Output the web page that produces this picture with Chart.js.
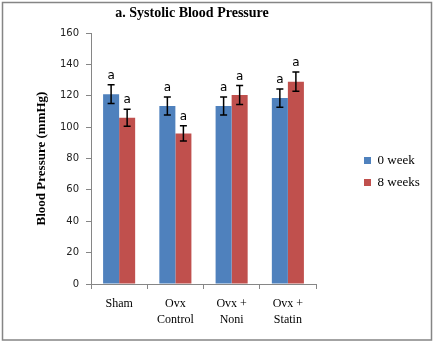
<!DOCTYPE html>
<html>
<head>
<meta charset="utf-8">
<script src="https://cdn.jsdelivr.net/npm/chart.js@4/dist/chart.umd.min.js"></script>
<style>
  html, body { margin: 0; padding: 0; background: #fff; }
  #wrap { width: 434px; height: 343px; }
</style>
</head>
<body>
<div id="wrap"><canvas id="c" width="434" height="343"></canvas></div>
<script>
// Groups and systolic pressure (mmHg) with SEM
const groups = [["Sham"], ["Ovx", "Control"], ["Ovx +", "Noni"], ["Ovx +", "Statin"]];
const seriesNames = ["0 week", "8 weeks"];
const week0 = [121, 113.5, 113.5, 118.5];
const week0Err = [6, 5.7, 5.7, 5.8];
const week8 = [106, 96, 120.5, 129];
const week8Err = [5.4, 4.8, 6, 6.2];
const week0Sig = ["a", "a", "a", "a"];
const week8Sig = ["a", "a", "a", "a"];
const yTicks = { min: 0, max: 160, step: 20 };

const errors = [week0Err, week8Err];
const sigLetters = [week0Sig, week8Sig];

// Frame around the whole figure
const framePlugin = {
  id: 'frame',
  beforeDraw(chart) {
    const ctx = chart.ctx;
    ctx.save();
    ctx.fillStyle = '#fff';
    ctx.fillRect(0, 0, chart.width, chart.height);
    ctx.strokeStyle = '#858585';
    ctx.lineWidth = 1.5;
    ctx.strokeRect(2.5, 2.5, chart.width - 5, chart.height - 5.5);
    ctx.restore();
  }
};

// Fixed legend width so the plot area keeps its size; title sits a bit left of the plot centre
const layoutTweaks = {
  id: 'layoutTweaks',
  afterInit(chart) {
    const lg = chart.legend;
    if (!lg) return;
    const fit = lg.fit.bind(lg);
    lg.fit = function () { fit(); this.width = 75; };
  },
  afterLayout(chart) {
    const tb = chart.titleBlock;
    if (tb) { tb.left -= 23; tb.width = tb.right - tb.left; }
  }
};

// Error bars with caps, plus significance letters above them
const errorBarPlugin = {
  id: 'errorBars',
  afterDatasetsDraw(chart) {
    const ctx = chart.ctx;
    const y = chart.scales.y;
    ctx.save();
    chart.data.datasets.forEach((ds, i) => {
      const meta = chart.getDatasetMeta(i);
      meta.data.forEach((bar, j) => {
        const v = ds.data[j];
        const e = errors[i][j];
        const top = y.getPixelForValue(v + e);
        const bot = y.getPixelForValue(v - e);
        const x = bar.x;
        ctx.strokeStyle = '#000';
        ctx.lineWidth = 1.5;
        ctx.beginPath();
        ctx.moveTo(x, top); ctx.lineTo(x, bot);
        ctx.moveTo(x - 3.5, top); ctx.lineTo(x + 3.5, top);
        ctx.moveTo(x - 3.5, bot); ctx.lineTo(x + 3.5, bot);
        ctx.stroke();
        ctx.fillStyle = '#000';
        ctx.font = '12px "DejaVu Sans", sans-serif';
        ctx.textAlign = 'center';
        ctx.textBaseline = 'alphabetic';
        ctx.fillText(sigLetters[i][j], x, top - 6);
      });
    });
    ctx.restore();
  }
};

const serif = '"Liberation Serif", "Times New Roman", serif';

new Chart(document.getElementById('c'), {
  type: 'bar',
  data: {
    labels: groups,
    datasets: [
      { label: seriesNames[0], data: week0, backgroundColor: '#4F81BD', borderWidth: 0,
        categoryPercentage: 0.57, barPercentage: 1.0 },
      { label: seriesNames[1], data: week8, backgroundColor: '#C0504D', borderWidth: 0,
        categoryPercentage: 0.57, barPercentage: 1.0 }
    ]
  },
  options: {
    responsive: false,
    animation: false,
    devicePixelRatio: 1,
    layout: { padding: { left: 0, right: 4, top: 0, bottom: 0 } },
    plugins: {
      title: {
        display: true,
        text: 'a. Systolic Blood Pressure',
        fullSize: false,
        color: '#000',
        font: { family: serif, size: 14, weight: 'bold', lineHeight: 1.2 },
        padding: { top: 5, bottom: 11.2 }
      },
      legend: {
        position: 'right',
        align: 'center',
        labels: {
          color: '#000',
          font: { family: serif, size: 13 },
          boxWidth: 7,
          boxHeight: 7,
          padding: 9
        }
      },
      tooltip: { enabled: false }
    },
    scales: {
      x: {
        offset: true,
        grid: { display: true, offset: true, drawOnChartArea: false, drawTicks: true,
                tickLength: 5, color: '#868686' },
        border: { display: true, color: '#868686', width: 1 },
        ticks: { color: '#000', padding: 7, maxRotation: 0,
                 font: { family: serif, size: 12, lineHeight: 1.33 } },
        afterFit(scale) { scale.height = 59; }
      },
      y: {
        min: yTicks.min,
        max: yTicks.max,
        grid: { display: true, drawOnChartArea: false, drawTicks: true, tickLength: 5,
                color: '#868686' },
        border: { display: true, color: '#868686', width: 1 },
        ticks: { stepSize: yTicks.step, color: '#222', padding: 7,
                 font: { family: '"DejaVu Sans", sans-serif', size: 10 } },
        title: {
          display: true,
          text: 'Blood Pressure (mmHg)',
          color: '#000',
          font: { family: serif, size: 13, weight: 'bold', lineHeight: 1.2 },
          padding: { top: 34, bottom: 0 }
        },
        afterFit(scale) { scale.width = 91; }
      },
      gap: {
        type: 'linear',
        position: 'right',
        display: true,
        grid: { display: false },
        border: { display: false },
        ticks: { display: false },
        afterFit(scale) { scale.width = 39; }
      }
    }
  },
  plugins: [framePlugin, layoutTweaks, errorBarPlugin]
});
</script>
</body>
</html>
